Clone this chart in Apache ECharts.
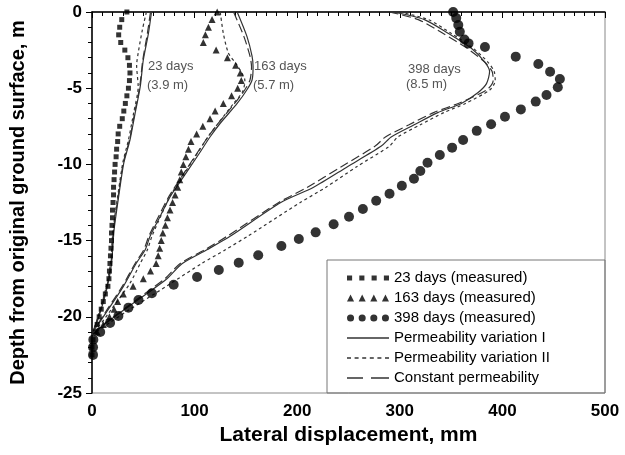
<!DOCTYPE html>
<html><head><meta charset="utf-8">
<script src="https://cdn.jsdelivr.net/npm/echarts@6/dist/echarts.min.js"></script>
<style>html,body{margin:0;padding:0;background:#fff}#c{width:625px;height:455px}</style>
</head><body><div id="c"></div>
<script>
// ---- data (x = lateral displacement mm, y = depth m) ----
const xTicks = [0,100,200,300,400,500];
const yTicks = [0,-5,-10,-15,-20,-25];

const meas23Depth = [0,-0.5,-1,-1.5,-2,-2.5,-3,-3.5,-4,-4.5,-5,-5.5,-6,-6.5,-7,-7.5,-8,-8.5,-9,-9.5,-10,-10.5,-11,-11.5,-12,-12.5,-13,-13.5,-14,-14.5,-15,-15.5,-16,-16.5,-17,-17.5,-18,-18.5,-19,-19.5,-20,-20.5,-21,-21.5,-22,-22.5];
const meas23Disp  = [34,29,27,26,28,32,35,36.5,37,36.5,35.5,34,32.5,31,29.5,27,25.5,25,24,23.5,22.5,22,21.5,21,21,20.5,20,20,19.5,19,19,18.5,18,17.5,17,16.5,15.5,13,11,9,7,5,3,1,0,0];

const meas163Depth = [0,-0.5,-1,-1.5,-2,-2.5,-3,-3.5,-4,-4.5,-5,-5.5,-6,-6.5,-7,-7.5,-8,-8.5,-9,-9.5,-10,-10.5,-11,-11.5,-12,-12.5,-13,-13.5,-14,-14.5,-15,-15.5,-16,-16.5,-17,-17.5,-18,-18.5,-19,-19.5,-20,-20.5,-21];
const meas163Disp  = [122,117,113.5,110.5,108.5,121,132,140,144.5,145.5,142,136,128,120,115,108,102,96.5,94,91.5,89,87,85.5,83.5,81,78.5,76,73.5,71.5,69,67.5,66,64.5,62.5,57,50,40,30.5,25,21.5,17,11,5];

const meas398Depth = [0,-0.4,-0.85,-1.3,-1.8,-2.06,-2.3,-2.93,-3.41,-3.92,-4.4,-4.94,-5.45,-5.88,-6.39,-6.87,-7.37,-7.8,-8.4,-8.9,-9.38,-9.89,-10.43,-10.94,-11.4,-11.92,-12.38,-12.93,-13.43,-13.93,-14.46,-14.9,-15.35,-15.96,-16.45,-16.93,-17.39,-17.9,-18.46,-18.9,-19.4,-19.95,-20.4,-21,-21.5,-22,-22.5];
const meas398Disp  = [352,355,357,358.5,363,367,383,413,435,446.5,456,454,443,432.5,418,402.5,389,375,361.7,351,339,327,320,313.8,302,290,277,264,250.5,235.5,218,201.6,184.6,162,143,123.6,102.4,79.6,58.4,45.3,35.5,25.7,17.6,8,1.3,1,1];

// model: permeability variation I (solid)
const var1_23Depth = [0,-1.4,-3.15,-4.9,-6.65,-8.4,-9.9,-12.1,-14.3,-16.5,-18,-19.5,-20.5,-21];
const var1_23Disp  = [58,55,50,47,42,37,31,26,21.5,19,15,9,4,0];
const var1_163Depth = [0,-1.6,-2.9,-3.6,-4.46,-5.1,-6,-7.3,-8.2,-9.5,-10.8,-12.1,-13.4,-14.7,-15.6,-16.5,-18,-19.5,-20.5,-21];
const var1_163Disp  = [141.5,151,156,157,156,151,141.5,125,115,102.4,89.3,76.3,66.5,56.7,51.9,43,30.6,16,6,0];
const var1_398Depth = [0,-0.5,-1.4,-2.4,-3.3,-3.9,-4.7,-5.3,-6,-6.6,-7.4,-8.2,-8.8,-10.15,-11.5,-12.5,-14.7,-15.6,-16.5,-17.5,-18.45,-19.55,-20.4,-20.9,-21.2];
const var1_398Disp  = [294,324,347,370,383,387.5,384.5,376,360,337,314,291.6,282,249,216,184,135,112,88,73,54,31,14,5,0];

// model: permeability variation II (short dash)
const var2_23Depth = [0,-1.2,-2.7,-3.5,-4.9,-6.65,-8.4,-9.9,-12.1,-14.3,-16.5,-18,-19.5,-20.5,-21];
const var2_23Disp  = [53,49,45,43.5,45,40.5,35.5,30,25,20.5,18,14,8,3.5,0];
const var2_163Depth = [0,-1.4,-2.7,-3.5,-4.5,-5.2,-6,-7.3,-8.2,-9.5,-10.8,-12.1,-13.4,-14.7,-15.6,-16.5,-17.8,-19.5,-20.5,-21];
const var2_163Disp  = [125,128,133,141.5,149,147,138,123,113,100.5,88,76,67,58.5,54,47,37,19,8,0];
const var2_398Depth = [0,-0.5,-1.4,-2.4,-3.3,-3.9,-4.5,-5.1,-6,-6.6,-7.4,-8.2,-8.8,-10.15,-11.5,-12.5,-14.7,-15.6,-16.5,-17.8,-18.45,-19.55,-20.4,-20.9,-21.2];
const var2_398Disp  = [300,328,350,372,386,392,393,388,364,343,320,298,290,258,228,203,152,130,107,77,62,36,17,6,0];

// model: constant permeability (long dash)
const const_23Depth = [0,-1.4,-3.15,-4.9,-6.65,-8.4,-9.9,-12.1,-14.3,-16.5,-18,-19.5,-20.5,-21];
const const_23Disp  = [57,54,49.5,46.5,41.5,36.5,30.5,25.5,21,18.5,14.5,8.5,3.5,0];
const const_163Depth = [0,-1.6,-2.9,-3.6,-4.46,-5.1,-6,-7.3,-8.2,-9.5,-10.8,-12.1,-13.4,-14.7,-15.6,-16.5,-18,-19.5,-20.5,-21];
const const_163Disp  = [138,148,154,155.5,154,149,139,123,113,100,87.5,75,65,55.5,50.5,42,29.5,15,5.5,0];
const const_398Depth = [0,-0.5,-1.4,-2.4,-3.3,-3.9,-4.5,-5.1,-6,-6.6,-7.4,-8.2,-8.8,-10.15,-11.5,-12.5,-14.7,-15.6,-16.5,-17.5,-18.45,-19.55,-20.4,-20.9,-21.2];
const const_398Disp  = [290,318,342,366,383,390,391,385,357,333,309,286,276,243,210,182,132,110,86,71,52,30,13,4.5,0];

const legendNames = ['23 days (measured)','163 days (measured)','398 days (measured)','Permeability variation I','Permeability variation II','Constant permeability'];
const curveLabels = [['23 days','(3.9 m)'],['163 days','(5.7 m)'],['398 days','(8.5 m)']];

// ---- build ----
const zip = (xs, ys) => xs.map((x, i) => [x, ys[i]]);
const FONT = 'Liberation Sans';
const lineCol = '#333';

function modelSeries(name, type, pairs) {
  return pairs.map(p => ({
    name, type: 'line', data: p, symbol: 'none', smooth: 0.25,
    color: lineCol, lineStyle: { color: lineCol, width: 1.2, type }, z: 2, silent: true
  }));
}

const series = [
  ...modelSeries(legendNames[3], 'solid', [zip(var1_23Disp, var1_23Depth), zip(var1_163Disp, var1_163Depth), zip(var1_398Disp, var1_398Depth)]),
  ...modelSeries(legendNames[4], [3, 3], [zip(var2_23Disp, var2_23Depth), zip(var2_163Disp, var2_163Depth), zip(var2_398Disp, var2_398Depth)]),
  ...modelSeries(legendNames[5], [9, 4], [zip(const_23Disp, const_23Depth), zip(const_163Disp, const_163Depth), zip(const_398Disp, const_398Depth)]),
  { name: legendNames[0], type: 'scatter', symbol: 'rect', symbolSize: 5, color: '#000', data: zip(meas23Disp, meas23Depth), z: 3 },
  { name: legendNames[1], type: 'scatter', symbol: 'triangle', symbolSize: 7, color: '#000', data: zip(meas163Disp, meas163Depth), z: 3 },
  { name: legendNames[2], type: 'scatter', symbol: 'circle', symbolSize: 10, color: '#000', data: zip(meas398Disp, meas398Depth), z: 3 }
];

const iconSquares = 'path://M0,1h5v5h-5z M12,1h5v5h-5z M24,1h5v5h-5z M36,1h5v5h-5z';
const iconTris = 'path://M0,7L3.5,0L7,7z M11.5,7L15,0L18.5,7z M23,7L26.5,0L30,7z M34.5,7L38,0L41.5,7z';
const iconCircles = 'path://M0,3.5a3.5,3.5 0 1,0 7,0a3.5,3.5 0 1,0 -7,0z M11.5,3.5a3.5,3.5 0 1,0 7,0a3.5,3.5 0 1,0 -7,0z M23,3.5a3.5,3.5 0 1,0 7,0a3.5,3.5 0 1,0 -7,0z M34.5,3.5a3.5,3.5 0 1,0 7,0a3.5,3.5 0 1,0 -7,0z';
const iconSolid = 'path://M0,0h42v1.4h-42z';
const iconShort = 'path://M0,0h4v1.4h-4z M7.6,0h4v1.4h-4z M15.2,0h4v1.4h-4z M22.8,0h4v1.4h-4z M30.4,0h4v1.4h-4z M38,0h4v1.4h-4z';
const iconLong = 'path://M0,0h16v1.6h-16z M24,0h18v1.6h-18z';

const chart = echarts.init(document.getElementById('c'), null, { renderer: 'canvas' });
chart.setOption({
  animation: false,
  backgroundColor: '#fff',
  textStyle: { fontFamily: FONT },
  grid: { left: 92, right: 20, top: 12, bottom: 62, show: true, borderColor: '#888', borderWidth: 1 },
  xAxis: {
    type: 'value', min: xTicks[0], max: xTicks[xTicks.length - 1], interval: 100,
    name: 'Lateral displacement, mm', nameLocation: 'middle', nameGap: 32,
    nameTextStyle: { fontSize: 21, fontWeight: 'bold', color: '#000', fontFamily: FONT },
    axisLine: { lineStyle: { color: '#000', width: 1.5 } },
    axisTick: { length: 6, lineStyle: { color: '#000' } },
    minorTick: { show: true, splitNumber: 10, length: 4, lineStyle: { color: '#000' } },
    axisLabel: { fontSize: 17, fontWeight: 'bold', color: '#000', margin: 10, fontFamily: FONT },
    splitLine: { show: false }
  },
  yAxis: {
    type: 'value', min: yTicks[yTicks.length - 1], max: yTicks[0], interval: 5,
    name: 'Depth from original ground surface, m', nameLocation: 'middle', nameGap: 64,
    nameTextStyle: { fontSize: 20, fontWeight: 'bold', color: '#000', fontFamily: FONT },
    axisLine: { lineStyle: { color: '#000', width: 1.5 } },
    axisTick: { length: 6, lineStyle: { color: '#000' } },
    minorTick: { show: true, splitNumber: 5, length: 4, lineStyle: { color: '#000' } },
    axisLabel: { fontSize: 17, fontWeight: 'bold', color: '#000', margin: 10, fontFamily: FONT },
    splitLine: { show: false }
  },
  legend: {
    orient: 'vertical', left: 347, top: 270, itemWidth: 42, itemHeight: 8, itemGap: 4,
    padding: 0, selectedMode: false,
    textStyle: { fontSize: 15, color: '#000', fontFamily: FONT, lineHeight: 16 },
    data: [
      { name: legendNames[0], icon: iconSquares },
      { name: legendNames[1], icon: iconTris },
      { name: legendNames[2], icon: iconCircles },
      { name: legendNames[3], icon: iconSolid },
      { name: legendNames[4], icon: iconShort },
      { name: legendNames[5], icon: iconLong }
    ]
  },
  graphic: [
    { type: 'rect', shape: { x: 327, y: 260, width: 278, height: 133 }, style: { fill: 'none', stroke: '#777', lineWidth: 1 }, z: 1 },
    { type: 'text', left: 148, top: 60, style: { text: curveLabels[0][0], font: '13px ' + FONT, fill: '#555' } },
    { type: 'text', left: 147, top: 79, style: { text: curveLabels[0][1], font: '13px ' + FONT, fill: '#555' } },
    { type: 'text', left: 254, top: 60, style: { text: curveLabels[1][0], font: '13px ' + FONT, fill: '#555' } },
    { type: 'text', left: 253, top: 79, style: { text: curveLabels[1][1], font: '13px ' + FONT, fill: '#555' } },
    { type: 'text', left: 408, top: 63, style: { text: curveLabels[2][0], font: '13px ' + FONT, fill: '#555' } },
    { type: 'text', left: 406, top: 78, style: { text: curveLabels[2][1], font: '13px ' + FONT, fill: '#555' } }
  ],
  series
});
</script>
</body></html>
